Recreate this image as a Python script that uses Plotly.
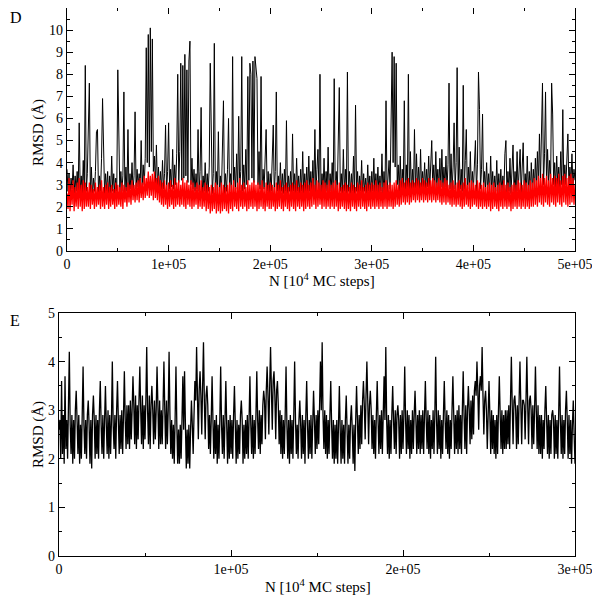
import plotly.graph_objects as go

# ---------------- Panel D data (x step 1000, 0..5e5) ----------------
d_step = 1000
d_black = [
    3.7, 2.7, 3.5, 2.5, 3.3, 2.8, 3.9, 2.6, 3.4, 2.7, 3.6, 2.6, 5.8, 2.7, 3.4, 2.6, 4.1, 2.5, 8.4, 2.7,
    3.5, 5.2, 7.6, 2.6, 3.8, 2.5, 3.3, 2.7, 3.6, 5.4, 5.5, 2.6, 3.4, 2.7, 4.2, 6.9, 4.8, 2.6, 3.5, 2.7,
    3.6, 2.5, 3.4, 2.6, 4.3, 2.7, 3.5, 2.6, 3.3, 2.7, 8.2, 5.8, 2.6, 3.6, 2.7, 3.4, 7.2, 2.6, 3.8, 2.7,
    5.5, 2.6, 3.5, 2.8, 4.0, 2.7, 3.4, 6.3, 2.8, 3.7, 2.9, 3.5, 2.8, 5.0, 2.9, 3.9, 3.0, 4.2, 9.2, 4.0,
    9.8, 3.8, 10.1, 4.5, 9.6, 3.6, 4.3, 3.0, 4.8, 2.9, 3.8, 2.8, 3.6, 2.7, 4.1, 2.8, 3.5, 5.7, 2.7, 3.6,
    5.8, 2.8, 3.7, 2.9, 4.6, 2.8, 3.9, 3.0, 4.4, 8.0, 3.1, 4.5, 8.5, 3.2, 8.4, 3.3, 8.9, 3.4, 8.2, 3.1,
    8.6, 9.5, 3.0, 4.2, 2.8, 3.7, 2.7, 3.5, 2.8, 5.5, 2.7, 3.6, 6.5, 2.6, 3.4, 2.7, 4.0, 2.6, 3.5, 2.7,
    3.8, 8.5, 6.1, 2.6, 3.5, 9.4, 2.7, 3.6, 2.6, 5.4, 2.7, 3.4, 2.6, 4.3, 6.8, 2.6, 3.5, 2.7, 3.7, 6.0,
    2.7, 3.5, 2.6, 8.8, 2.7, 3.8, 2.8, 4.4, 2.7, 6.1, 2.8, 3.6, 8.8, 2.7, 3.9, 2.8, 4.6, 3.0, 7.9, 3.2,
    8.5, 8.0, 3.3, 8.6, 3.1, 8.8, 8.1, 7.8, 3.0, 4.5, 2.8, 7.9, 2.7, 3.7, 2.8, 4.1, 5.5, 2.7, 3.6, 2.6,
    3.5, 2.7, 4.4, 5.7, 2.6, 3.6, 7.2, 2.7, 3.4, 2.6, 4.0, 2.7, 3.5, 2.6, 3.7, 2.7, 5.9, 2.6, 3.4, 2.7,
    3.6, 2.6, 5.3, 2.7, 3.5, 2.6, 4.2, 2.7, 3.4, 2.6, 3.7, 2.7, 4.5, 2.6, 3.5, 2.7, 3.8, 2.6, 4.3, 2.7,
    3.6, 2.6, 4.1, 2.7, 5.5, 2.6, 3.7, 4.6, 2.7, 8.0, 2.6, 3.5, 2.7, 4.2, 2.6, 3.6, 2.7, 4.7, 2.6, 3.5,
    2.7, 4.0, 2.6, 7.8, 2.7, 3.6, 2.6, 4.4, 7.4, 2.7, 3.5, 2.6, 4.6, 2.7, 3.7, 2.6, 8.1, 2.7, 3.6, 2.6,
    3.5, 2.7, 4.3, 2.6, 6.6, 2.7, 3.6, 2.6, 3.4, 2.7, 4.1, 2.6, 3.5, 2.7, 3.3, 2.6, 3.9, 2.7, 3.4, 2.6,
    3.6, 2.7, 4.2, 2.6, 3.5, 2.7, 3.8, 2.6, 3.4, 2.7, 4.4, 2.6, 3.6, 2.7, 6.8, 2.6, 3.5, 4.1, 2.8, 7.0,
    9.0, 4.0, 8.8, 3.8, 8.5, 3.0, 3.9, 2.7, 4.3, 2.6, 3.7, 2.7, 6.8, 2.6, 3.9, 2.7, 8.0, 2.6, 4.5, 2.7,
    3.7, 2.6, 5.5, 2.7, 4.4, 2.8, 3.8, 2.7, 4.6, 2.8, 3.6, 2.9, 4.0, 2.8, 3.7, 2.9, 4.3, 2.8, 3.8, 5.0,
    2.9, 3.9, 2.8, 4.5, 2.9, 3.7, 2.8, 4.2, 2.9, 4.6, 2.8, 3.8, 2.9, 4.3, 2.8, 3.9, 7.6, 2.8, 4.4, 2.7,
    3.8, 5.8, 2.8, 4.0, 8.3, 2.7, 4.7, 2.8, 3.7, 2.7, 7.5, 2.8, 4.1, 5.5, 2.7, 3.8, 2.8, 4.5, 2.7, 3.6,
    2.8, 4.2, 5.0, 2.7, 3.9, 8.1, 6.4, 2.8, 3.7, 6.2, 2.7, 3.6, 2.8, 4.0, 2.7, 3.5, 2.6, 4.3, 2.7, 3.6,
    2.6, 3.4, 2.7, 4.1, 2.6, 3.5, 2.7, 3.7, 2.6, 3.4, 2.7, 4.4, 5.0, 2.6, 3.6, 2.7, 4.2, 2.6, 3.5, 4.8,
    2.7, 3.6, 2.6, 4.5, 2.7, 3.5, 4.6, 2.6, 3.7, 4.9, 2.7, 3.5, 2.6, 4.3, 2.7, 3.6, 2.6, 4.0, 2.7, 3.7,
    2.8, 4.2, 2.9, 4.5, 3.0, 5.3, 3.1, 4.8, 7.6, 3.0, 4.4, 7.2, 3.1, 4.6, 3.0, 4.1, 3.2, 7.6, 6.2, 3.0,
    4.0, 2.9, 4.3, 3.0, 3.8, 2.9, 4.5, 3.0, 6.4, 2.9, 3.9, 3.0, 4.2, 5.3, 2.9, 3.8, 3.0, 4.4, 2.9, 3.7,
    3.2,
]
d_red = [
    2.6, 1.9, 3.3, 1.8, 3.0, 2.1, 3.2, 1.8, 2.9, 2.0, 3.1, 1.9, 3.3, 2.0, 3.0, 1.8, 3.2, 1.9, 3.1, 2.0,
    2.9, 2.0, 3.1, 1.9, 3.0, 2.1, 2.8, 1.9, 3.1, 2.0, 2.9, 2.1, 3.0, 1.9, 3.2, 2.0, 2.9, 1.9, 3.0, 2.1,
    3.1, 1.9, 2.9, 2.0, 3.0, 2.1, 2.8, 1.9, 3.1, 2.0, 3.0, 2.1, 2.9, 2.0, 3.1, 1.9, 3.0, 2.2, 2.9, 2.0,
    3.1, 2.2, 3.0, 2.1, 3.2, 2.3, 3.0, 2.2, 3.1, 2.3, 3.2, 2.2, 3.3, 2.4, 3.1, 2.3, 3.4, 2.4, 3.3, 2.5,
    3.6, 2.4, 3.4, 2.5, 3.5, 2.3, 3.6, 2.4, 3.3, 2.3, 3.4, 2.2, 3.2, 2.1, 3.1, 2.0, 3.2, 2.1, 3.0, 1.9,
    3.1, 2.0, 3.2, 2.1, 3.0, 1.9, 3.3, 2.0, 3.1, 2.1, 3.2, 2.0, 3.0, 2.1, 3.3, 2.0, 3.1, 1.9, 3.2, 2.1,
    3.0, 2.0, 3.2, 1.9, 3.1, 2.0, 2.9, 2.1, 3.1, 1.9, 3.0, 2.0, 3.2, 1.9, 2.9, 2.0, 3.1, 1.8, 3.0, 1.9,
    2.9, 1.7, 3.0, 1.8, 2.9, 1.9, 3.1, 1.7, 3.0, 1.8, 2.9, 1.7, 3.1, 1.8, 3.0, 1.9, 2.9, 1.8, 3.0, 1.7,
    3.1, 1.9, 3.0, 1.8, 3.2, 2.0, 2.9, 1.9, 3.1, 1.8, 3.3, 2.0, 3.0, 1.9, 3.1, 2.0, 2.9, 1.8, 3.2, 1.9,
    3.0, 2.0, 3.1, 1.9, 3.2, 2.0, 3.0, 1.8, 3.1, 1.9, 3.0, 2.0, 3.2, 1.9, 2.9, 1.8, 3.1, 2.0, 3.0, 1.9,
    3.1, 1.9, 3.0, 2.0, 2.9, 1.8, 3.1, 1.9, 3.0, 2.0, 3.2, 1.9, 2.9, 1.8, 3.0, 2.0, 3.1, 1.9, 2.9, 1.8,
    3.0, 2.0, 3.1, 1.9, 3.0, 1.8, 3.2, 2.0, 2.9, 1.9, 3.1, 2.0, 3.0, 1.8, 3.1, 1.9, 3.2, 2.0, 3.0, 1.9,
    3.1, 2.0, 3.3, 2.1, 3.0, 1.9, 3.2, 2.0, 3.1, 2.1, 3.0, 1.9, 3.2, 2.0, 3.1, 1.9, 3.0, 2.0, 3.2, 1.9,
    3.0, 2.0, 3.1, 1.9, 3.2, 2.0, 3.0, 1.8, 3.1, 1.9, 2.9, 2.0, 3.0, 1.9, 3.1, 1.8, 3.0, 1.9, 2.9, 1.8,
    3.1, 2.0, 3.0, 1.9, 2.9, 1.8, 3.1, 2.0, 3.0, 1.9, 3.2, 2.0, 2.9, 1.9, 3.0, 1.8, 3.1, 2.0, 3.0, 1.9,
    3.1, 2.0, 3.0, 1.9, 3.2, 2.0, 3.0, 1.9, 3.1, 2.0, 2.9, 1.9, 3.1, 2.0, 3.2, 1.9, 3.0, 2.0, 3.1, 2.0,
    3.0, 1.9, 3.1, 2.0, 3.2, 2.1, 3.0, 2.0, 3.2, 2.1, 3.3, 2.2, 3.1, 2.1, 3.2, 2.2, 3.3, 2.1, 3.1, 2.2,
    3.2, 2.3, 3.1, 2.2, 3.3, 2.3, 3.2, 2.2, 3.1, 2.3, 3.3, 2.2, 3.2, 2.3, 3.1, 2.2, 3.3, 2.3, 3.2, 2.2,
    3.3, 2.3, 3.2, 2.2, 3.1, 2.3, 3.3, 2.2, 3.2, 2.1, 3.1, 2.2, 3.3, 2.1, 3.2, 2.2, 3.0, 2.1, 3.1, 2.0,
    3.2, 2.1, 3.0, 2.0, 3.1, 2.1, 3.2, 2.0, 3.0, 1.9, 3.1, 2.0, 3.3, 2.1, 3.0, 2.0, 3.1, 1.9, 3.2, 2.0,
    3.1, 2.1, 3.0, 2.0, 3.2, 1.9, 3.1, 2.0, 3.0, 1.9, 3.1, 2.0, 2.9, 1.9, 3.0, 2.0, 3.1, 1.8, 3.0, 1.9,
    3.1, 2.0, 2.9, 1.9, 3.0, 1.8, 3.1, 2.0, 3.0, 1.9, 3.2, 2.0, 3.0, 1.9, 3.1, 2.0, 2.9, 1.8, 3.0, 1.9,
    3.1, 2.0, 3.0, 1.9, 3.2, 2.0, 3.1, 1.9, 3.0, 2.0, 3.2, 1.9, 3.1, 2.0, 3.0, 1.9, 3.2, 2.0, 3.1, 2.0,
    3.3, 2.1, 3.2, 2.0, 3.4, 2.2, 3.3, 2.1, 3.5, 2.0, 3.3, 2.2, 3.4, 2.1, 3.2, 2.0, 3.5, 2.2, 3.3, 2.1,
    3.4, 2.0, 3.3, 2.2, 3.5, 2.1, 3.2, 2.0, 3.4, 2.2, 3.5, 2.1, 3.3, 2.0, 3.4, 2.1, 3.5, 2.2, 3.3, 2.1,
    3.0,
]

# ---------------- Panel E data (x step 500, 0..3e5) ----------------
e_step = 500
e_black = [
    2.6, 2.8, 2.0, 3.6, 2.1, 2.9, 1.9, 3.7, 2.2, 2.8, 2.0, 3.0, 4.2, 2.7, 2.1, 2.9, 1.9, 2.8, 2.0, 3.0,
    3.4, 2.8, 2.1, 2.9, 1.9, 2.7, 2.0, 2.9, 3.9, 2.7, 2.1, 2.8, 2.0, 2.9, 3.2, 2.7, 1.9, 2.8, 1.8, 2.9,
    3.3, 2.8, 2.0, 2.9, 2.1, 2.8, 2.0, 3.0, 3.6, 2.7, 2.1, 2.9, 2.0, 2.8, 3.5, 2.7, 2.1, 3.0, 2.0, 2.9,
    2.1, 2.8, 4.0, 2.7, 2.2, 2.9, 2.0, 3.0, 3.6, 2.8, 2.1, 2.9, 2.2, 3.0, 2.1, 2.9, 3.8, 2.8, 2.2, 3.1,
    2.3, 3.1, 2.2, 3.2, 2.4, 3.0, 3.7, 3.1, 2.3, 3.3, 2.2, 3.1, 2.4, 3.2, 3.9, 3.0, 2.3, 3.3, 2.2, 3.1,
    2.4, 3.2, 4.3, 3.0, 2.3, 3.3, 2.2, 3.1, 3.5, 3.0, 2.3, 3.2, 2.4, 3.0, 3.9, 3.1, 2.2, 3.2, 2.3, 3.0,
    2.3, 3.1, 4.0, 3.0, 2.2, 3.2, 2.3, 3.0, 4.2, 2.9, 2.1, 2.8, 2.0, 2.7, 1.9, 2.8, 3.9, 2.7, 1.9, 2.6,
    1.9, 2.7, 2.0, 2.8, 3.7, 2.6, 3.8, 2.7, 1.8, 2.6, 1.9, 2.7, 1.8, 2.6, 3.2, 2.7, 2.1, 2.9, 3.6, 3.2,
    4.3, 3.3, 2.4, 3.4, 3.8, 3.3, 2.5, 3.5, 4.4, 3.2, 2.4, 3.3, 3.5, 3.1, 2.2, 2.9, 2.1, 2.8, 3.7, 2.8,
    2.0, 2.8, 2.1, 2.9, 1.9, 2.7, 2.0, 2.8, 3.9, 2.7, 2.1, 2.9, 2.0, 2.8, 3.6, 2.7, 1.9, 2.8, 2.0, 2.9,
    2.1, 2.8, 2.0, 2.9, 3.5, 2.7, 1.9, 2.8, 2.0, 2.7, 2.1, 2.9, 3.2, 2.8, 1.9, 2.7, 2.0, 2.8, 2.1, 2.9,
    2.0, 2.8, 3.7, 2.7, 2.1, 2.9, 2.0, 2.8, 2.1, 2.9, 3.8, 2.8, 2.2, 3.0, 2.1, 2.9, 2.3, 3.1, 3.4, 3.2,
    2.4, 3.4, 3.9, 3.3, 2.5, 3.5, 4.3, 3.4, 2.6, 3.6, 3.8, 3.3, 2.4, 3.4, 3.6, 3.1, 2.3, 3.0, 2.1, 2.9,
    2.0, 2.8, 2.1, 2.9, 3.9, 2.7, 2.0, 2.8, 1.9, 2.9, 2.1, 2.8, 2.0, 2.9, 4.0, 2.8, 2.1, 2.7, 2.0, 2.8,
    3.2, 2.7, 2.0, 2.9, 2.1, 2.8, 1.9, 2.9, 3.6, 2.7, 2.0, 2.8, 2.1, 2.9, 2.0, 2.7, 3.4, 2.8, 2.1, 2.9,
    2.2, 3.0, 2.3, 3.1, 4.0, 3.0, 4.4, 2.9, 2.2, 3.0, 2.1, 2.9, 2.0, 2.8, 2.1, 2.9, 3.6, 2.7, 2.0, 2.8,
    1.9, 2.7, 2.0, 2.8, 1.9, 2.7, 3.5, 2.6, 1.9, 2.8, 2.0, 2.7, 1.9, 2.8, 3.3, 2.6, 1.9, 2.7, 2.0, 2.8,
    3.1, 2.6, 1.9, 2.7, 1.75, 2.8, 3.5, 2.8, 2.1, 2.9, 2.2, 3.1, 2.3, 3.2, 3.6, 3.1, 2.4, 3.3, 4.0, 3.2,
    2.3, 3.1, 3.4, 3.0, 2.2, 2.9, 2.1, 2.8, 2.0, 2.9, 3.6, 2.8, 2.1, 2.9, 2.2, 3.0, 2.1, 2.9, 3.7, 2.8,
    4.3, 2.8, 2.1, 2.9, 2.0, 2.8, 2.1, 2.9, 3.5, 2.8, 2.2, 3.0, 2.1, 2.9, 3.1, 2.8, 2.0, 2.9, 2.1, 3.0,
    2.2, 2.9, 3.9, 2.8, 2.1, 3.0, 2.2, 2.9, 2.0, 2.8, 2.1, 3.0, 2.2, 2.9, 3.4, 2.8, 2.1, 2.9, 2.2, 3.0,
    2.1, 2.9, 2.2, 3.0, 2.1, 2.9, 3.6, 2.8, 2.2, 3.0, 2.1, 2.9, 2.0, 2.8, 2.2, 3.0, 2.1, 2.9, 4.1, 2.8,
    2.1, 3.0, 2.2, 2.9, 2.0, 2.8, 2.1, 2.9, 3.6, 2.8, 2.2, 3.0, 2.1, 2.9, 2.0, 2.8, 2.2, 3.0, 3.7, 2.9,
    2.1, 2.9, 2.2, 3.0, 2.1, 3.1, 2.2, 2.9, 2.1, 3.0, 3.8, 2.9, 2.2, 3.1, 2.1, 3.0, 3.5, 3.0, 2.3, 3.2,
    2.4, 3.3, 2.5, 3.4, 3.6, 3.3, 4.0, 3.4, 2.6, 3.5, 3.7, 3.4, 4.3, 3.3, 2.5, 3.2, 3.4, 3.0, 2.2, 2.9,
    3.6, 2.9, 2.1, 3.0, 2.2, 2.9, 2.1, 2.8, 2.0, 2.9, 2.1, 3.0, 3.7, 2.9, 2.2, 3.0, 2.1, 2.9, 2.2, 3.0,
    2.2, 3.0, 2.3, 3.1, 2.2, 3.2, 4.1, 3.1, 2.3, 3.2, 3.3, 3.0, 2.2, 3.1, 2.3, 3.2, 4.0, 3.1, 2.3, 3.2,
    3.2, 3.1, 2.4, 3.2, 4.1, 3.1, 2.3, 3.2, 3.3, 3.0, 2.2, 3.1, 2.3, 3.0, 3.9, 3.0, 2.2, 3.1, 2.1, 2.9,
    2.1, 2.9, 2.0, 2.8, 2.2, 3.0, 3.5, 2.8, 2.1, 2.9, 2.0, 2.8, 2.1, 2.9, 3.0, 2.8, 2.0, 2.9, 2.1, 2.8,
    2.0, 2.9, 3.9, 2.8, 2.1, 2.9, 2.0, 2.8, 2.1, 3.0, 3.4, 2.8, 2.0, 2.9, 2.1, 2.8, 1.9, 2.7, 3.2, 2.5,
    1.9,
]

d_x = [i * d_step for i in range(len(d_black))]
e_x = [i * e_step for i in range(len(e_black))]

d_xticks = [0, 100000, 200000, 300000, 400000, 500000]
d_xticktext = ["0", "1e+05", "2e+05", "3e+05", "4e+05", "5e+05"]
d_yticks = list(range(0, 12))
e_xticks = [0, 100000, 200000, 300000]
e_xticktext = ["0", "1e+05", "2e+05", "3e+05"]
e_yticks = list(range(0, 6))

FONT = "Liberation Serif"
W, H = 600, 599
OFF = 8  # the page body adds an 8px offset to the figure


def px_x(p):
    return (p - OFF) / W


def px_y(p):
    return 1 - (p - OFF) / H


fig = go.Figure()
fig.add_trace(go.Scatter(x=d_x, y=d_black, mode="lines",
                         line=dict(color="black", width=1.0), xaxis="x", yaxis="y",
                         showlegend=False, hoverinfo="skip"))
fig.add_trace(go.Scatter(x=d_x, y=d_red, mode="lines",
                         line=dict(color="#ff0000", width=1.3), xaxis="x", yaxis="y",
                         showlegend=False, hoverinfo="skip"))
fig.add_trace(go.Scatter(x=e_x, y=e_black, mode="lines",
                         line=dict(color="black", width=1.3), xaxis="x2", yaxis="y2",
                         showlegend=False, hoverinfo="skip"))

axis_common = dict(showline=True, linecolor="black", linewidth=1.2, mirror="ticks",
                   ticks="inside", ticklen=6, tickcolor="black", tickwidth=1,
                   showgrid=False, zeroline=False, automargin=False,
                   tickfont=dict(family=FONT, size=14, color="black"))

fig.update_layout(
    width=W, height=H,
    margin=dict(l=0, r=0, t=0, b=0, pad=0, autoexpand=False),
    paper_bgcolor="white", plot_bgcolor="white",
    font=dict(family=FONT, color="black"),
    xaxis=dict(domain=[px_x(67), px_x(575)], range=[0, 500000], anchor="y",
               tickvals=d_xticks, ticktext=d_xticktext,
               minor=dict(ticks="inside", ticklen=3, dtick=50000, tick0=0, tickcolor="black"),
               **axis_common),
    yaxis=dict(domain=[px_y(251), px_y(8)], range=[0, 11], anchor="x",
               tickvals=d_yticks,
               minor=dict(ticks="inside", ticklen=3, dtick=0.5, tick0=0, tickcolor="black"),
               **axis_common),
    xaxis2=dict(domain=[px_x(59), px_x(575)], range=[0, 300000], anchor="y2",
                tickvals=e_xticks, ticktext=e_xticktext,
                minor=dict(ticks="inside", ticklen=3, dtick=50000, tick0=0, tickcolor="black"),
                **axis_common),
    yaxis2=dict(domain=[px_y(556), px_y(313)], range=[0, 5], anchor="x2",
                tickvals=e_yticks,
                minor=dict(ticks="inside", ticklen=3, dtick=0.5, tick0=0, tickcolor="black"),
                **axis_common),
)

ann_font = dict(family=FONT, size=15, color="black")
common_ann = dict(xref="paper", yref="paper", showarrow=False,
                  xanchor="center", yanchor="middle")
fig.add_annotation(text="D", x=px_x(16), y=px_y(17),
                   font=dict(family=FONT, size=16, color="black"), **common_ann)
fig.add_annotation(text="E", x=px_x(15), y=px_y(320),
                   font=dict(family=FONT, size=16, color="black"), **common_ann)
fig.add_annotation(text="N [10<sup>4</sup> MC steps]", x=px_x(322), y=px_y(280),
                   font=ann_font, **common_ann)
fig.add_annotation(text="N [10<sup>4</sup> MC steps]", x=px_x(318), y=px_y(586),
                   font=ann_font, **common_ann)
fig.add_annotation(text="RMSD (Å)", x=px_x(38), y=px_y(133), textangle=-90,
                   font=ann_font, **common_ann)
fig.add_annotation(text="RMSD (Å)", x=px_x(38), y=px_y(435), textangle=-90,
                   font=ann_font, **common_ann)

fig.write_html("out.html")
